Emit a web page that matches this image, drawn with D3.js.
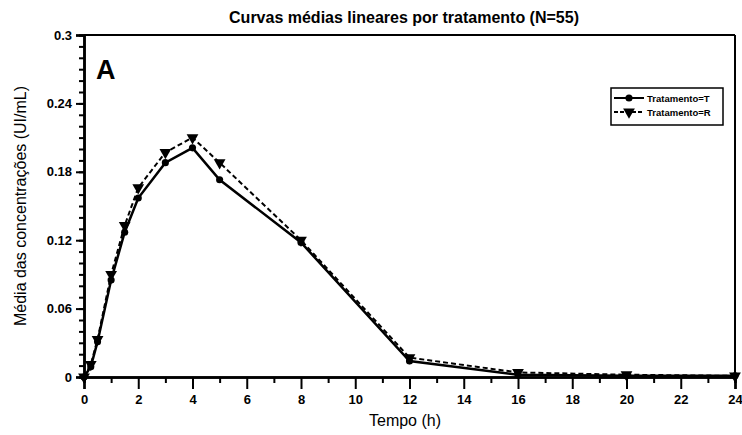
<!DOCTYPE html>
<html><head><meta charset="utf-8">
<script src="https://cdn.jsdelivr.net/npm/d3@7"></script>
<style>body{margin:0;background:#fff}svg{display:block}text{font-family:"Liberation Sans",Arial,sans-serif;fill:#000}</style>
</head><body>
<svg id="c" width="742" height="435"></svg>
<script>
const times = [0, 0.25, 0.5, 1, 1.5, 2, 3, 4, 5, 8, 12, 16, 20, 24];
const seriesT = [0, 0.009, 0.031, 0.085, 0.127, 0.157, 0.188, 0.201, 0.173, 0.118, 0.014, 0.002, 0.001, 0.001];
const seriesR = [0, 0.011, 0.033, 0.090, 0.133, 0.166, 0.197, 0.210, 0.188, 0.120, 0.017, 0.004, 0.002, 0.001];
const seriesNames = ["Tratamento=T", "Tratamento=R"];
const xTicks = [0, 2, 4, 6, 8, 10, 12, 14, 16, 18, 20, 22, 24];
const yTicks = [0, 0.06, 0.12, 0.18, 0.24, 0.3];
const yTickLabels = ["0", "0.06", "0.12", "0.18", "0.24", "0.3"];

const svg = d3.select("#c");
const L = 84, R = 735, T = 35, B = 377;
const x = d3.scaleLinear().domain([0, 24]).range([L, R]);
const y = d3.scaleLinear().domain([0, 0.3]).range([B, T]);

// frame
svg.append("line").attr("x1", L).attr("x2", R).attr("y1", T).attr("y2", T).attr("stroke", "#000").attr("stroke-width", 2);
svg.append("line").attr("x1", R).attr("x2", R).attr("y1", T).attr("y2", B).attr("stroke", "#000").attr("stroke-width", 2);

// minor ticks
const gx = svg.append("g").attr("transform", `translate(0,${B})`);
gx.call(d3.axisBottom(x).tickValues(d3.range(1, 24, 2)).tickSize(6).tickFormat(""));
const gxm = svg.append("g").attr("transform", `translate(0,${B})`);
gxm.call(d3.axisBottom(x).tickValues(xTicks).tickSize(12).tickPadding(6).tickFormat(d3.format("d")));
const gy = svg.append("g").attr("transform", `translate(${L},0)`);
gy.call(d3.axisLeft(y).tickValues(d3.range(0, 0.3, 0.01)).tickSize(5).tickFormat(""));
const gym = svg.append("g").attr("transform", `translate(${L},0)`);
gym.call(d3.axisLeft(y).tickValues(yTicks).tickSize(8).tickPadding(4).tickFormat((d, i) => yTickLabels[i]));
svg.selectAll(".domain").attr("stroke-width", 2.5);
svg.selectAll(".tick line").attr("stroke-width", 2);
svg.selectAll(".tick text").attr("font-size", 13).attr("font-weight", "bold");

// lines
const lineT = d3.line().x((d, i) => x(times[i])).y(d => y(d));
svg.append("path").datum(seriesR).attr("d", lineT).attr("fill", "none").attr("stroke", "#000").attr("stroke-width", 2).attr("stroke-dasharray", "5,3");
svg.append("path").datum(seriesT).attr("d", lineT).attr("fill", "none").attr("stroke", "#000").attr("stroke-width", 2.5);

const symT = d3.symbol().type(d3.symbolCircle).size(40);
const symR = d3.symbol().type(d3.symbolTriangle).size(60);
svg.append("g").selectAll("path").data(seriesT).join("path")
  .attr("d", symT).attr("transform", (d, i) => `translate(${x(times[i])},${y(d)})`).attr("fill", "#000");
svg.append("g").selectAll("path").data(seriesR).join("path")
  .attr("d", symR).attr("transform", (d, i) => `translate(${x(times[i])},${y(d)}) rotate(180)`).attr("fill", "#000");

// legend
const lg = svg.append("g");
lg.append("rect").attr("x", 611).attr("y", 88).attr("width", 112).attr("height", 37).attr("fill", "#fff").attr("stroke", "#000").attr("stroke-width", 1.5);
[[0, false], [1, true]].forEach(([i, dashed]) => {
  const yy = 98 + i * 14;
  lg.append("line").attr("x1", 614).attr("x2", 644).attr("y1", yy).attr("y2", yy).attr("stroke", "#000").attr("stroke-width", 2).attr("stroke-dasharray", dashed ? "4,2" : null);
  lg.append("path").attr("d", i === 0 ? symT() : symR()).attr("transform", `translate(629,${yy})${i ? " rotate(180)" : ""}`).attr("fill", "#000");
  lg.append("text").attr("x", 647).attr("y", yy + 3.5).attr("font-size", 9.5).attr("font-weight", "bold").text(seriesNames[i]);
});

// texts
svg.append("text").attr("x", 404).attr("y", 23).attr("text-anchor", "middle").attr("font-size", 16).attr("font-weight", "bold").text("Curvas médias lineares por tratamento (N=55)");
svg.append("text").attr("x", 96).attr("y", 79).attr("font-size", 27).attr("font-weight", "bold").text("A");
svg.append("text").attr("transform", "translate(26,206) rotate(-90)").attr("text-anchor", "middle").attr("font-size", 16).text("Média das concentrações (UI/mL)");
svg.append("text").attr("x", 405).attr("y", 426).attr("text-anchor", "middle").attr("font-size", 16).text("Tempo (h)");
</script>
</body></html>
